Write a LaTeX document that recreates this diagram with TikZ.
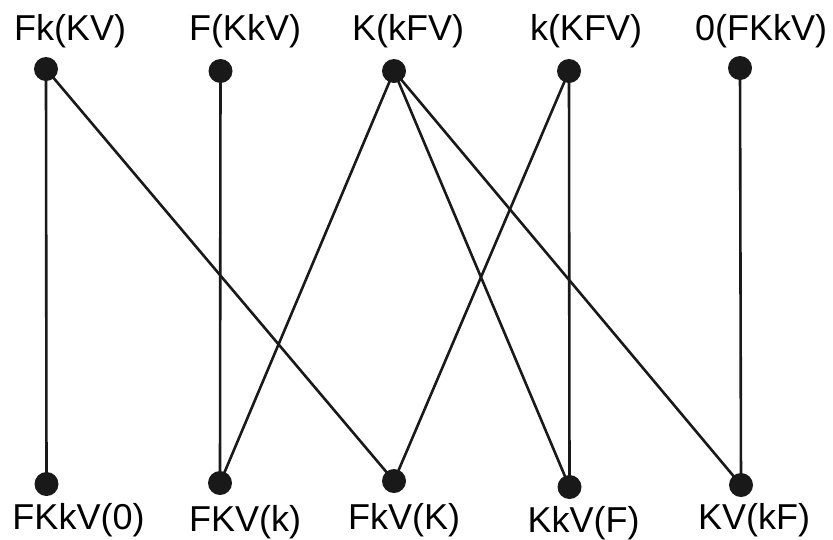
\documentclass[tikz,border=0pt]{standalone}
\usepackage{fontspec}
\setmainfont{Liberation Sans}
\begin{document}
\begin{tikzpicture}[x=1pt,y=-1pt,
  dot/.style={circle,fill=black!90,inner sep=0pt,minimum size=24pt},
  lab/.style={anchor=base,inner sep=0pt,font=\fontsize{36}{40}\selectfont},
  edge/.style={line width=2.6pt,black!90}]
\useasboundingbox (0,0) rectangle (833,539);
% top dots
\node[dot] (t1) at (46,69) {};
\node[dot] (t2) at (220.5,71) {};
\node[dot] (t3) at (394,71) {};
\node[dot] (t4) at (569,71) {};
\node[dot] (t5) at (740,68) {};
% bottom dots
\node[dot] (b1) at (46.5,484) {};
\node[dot] (b2) at (220,483) {};
\node[dot] (b3) at (394,481) {};
\node[dot] (b4) at (569.5,487) {};
\node[dot] (b5) at (741,485) {};
% top labels
\node[lab] (lt1) at (70,40) {Fk(KV)};
\node[lab] (lt2) at (245,40) {F(KkV)};
\node[lab] (lt3) at (408,40) {K(kFV)};
\node[lab] (lt4) at (586,40) {k(KFV)};
\node[lab] (lt5) at (761,40) {0(FKkV)};
% bottom labels
\node[lab] (lb1) at (78.5,529) {FKkV(0)};
\node[lab] (lb2) at (245,531) {FKV(k)};
\node[lab] (lb3) at (404,529) {FkV(K)};
\node[lab] (lb4) at (583.5,532) {KkV(F)};
\node[lab] (lb5) at (754,529) {KV(kF)};
% edges
\draw[edge] (t1.center) -- (b1.center);
\draw[edge] (t1.center) -- (b3.center);
\draw[edge] (t2.center) -- (b2.center);
\draw[edge] (t3.center) -- (b2.center);
\draw[edge] (t3.center) -- (b4.center);
\draw[edge] (t3.center) -- (b5.center);
\draw[edge] (t4.center) -- (b3.center);
\draw[edge] (t4.center) -- (b4.center);
\draw[edge] (t5.center) -- (b5.center);
\end{tikzpicture}
\end{document}
